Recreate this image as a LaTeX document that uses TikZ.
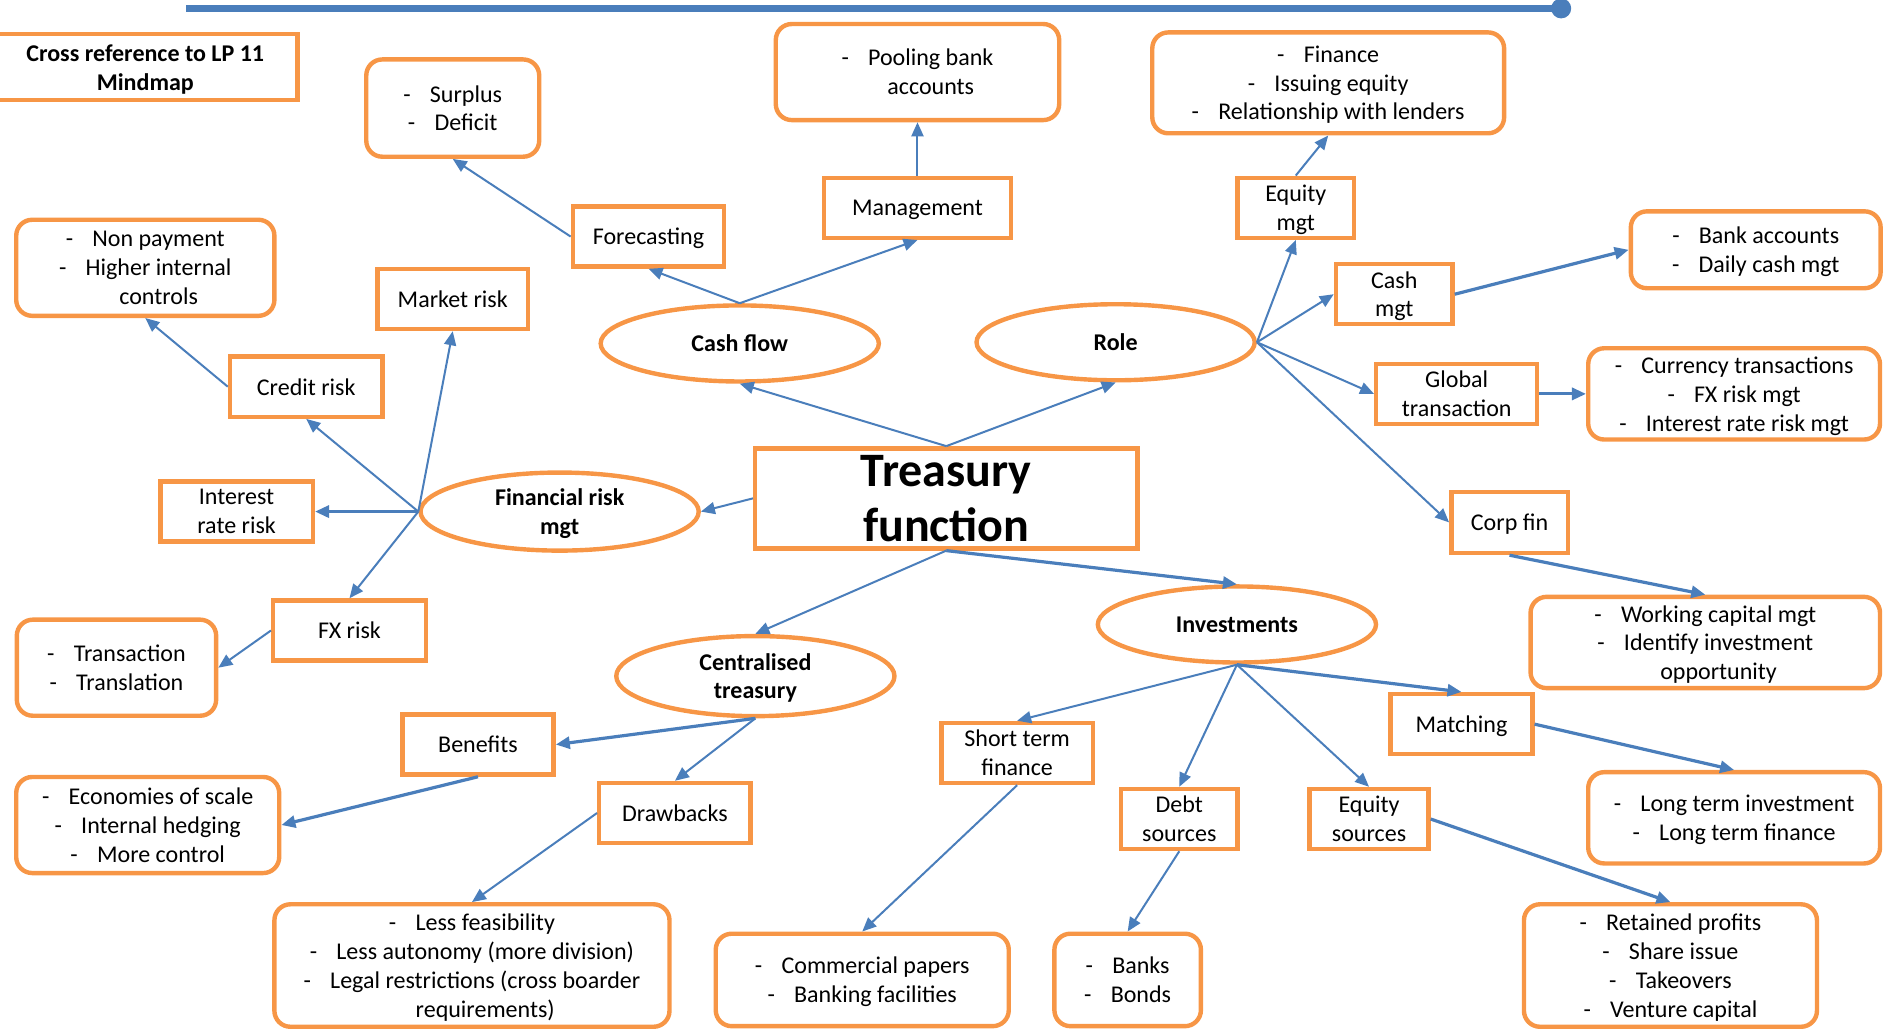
\documentclass[tikz,border=0pt]{standalone}
\usepackage{fontspec}
\setmainfont{Carlito}
\usetikzlibrary{shapes.geometric,arrows.meta}
\definecolor{tborder}{HTML}{F79646}
\definecolor{tlink}{HTML}{4A7EBB}
\newcommand{\itm}[1]{-\hspace{0.8em}#1}
\newcommand{\cont}[1]{\hphantom{-\hspace{0.8em}}#1}

\begin{document}
\begin{tikzpicture}[x=0.6pt,y=-0.6pt,
		every node/.style={font=\fontsize{12}{14.4}\selectfont, align=center, inner sep=0pt, text depth=0pt},
		box/.style={rectangle, draw=tborder, line width=2.2pt, minimum height=30pt},
		rbox/.style={rectangle, draw=tborder, line width=2.2pt, rounded corners=8pt},
		oval/.style={ellipse, draw=tborder, line width=2.2pt, minimum width=139pt, minimum height=38pt,
			font=\fontsize{12}{14.4}\selectfont\bfseries},
		link/.style={draw=tlink, line width=1pt, -{Triangle[length=7pt,width=6pt]}},
		biglink/.style={link, line width=1.6pt}]
		\useasboundingbox (0,0) rectangle (1568,858);

		\coordinate (barL) at (155,7);
		\coordinate (barR) at (1300,7);
		\draw[tlink, line width=3.5pt] (barL) -- (barR);
		\fill[tlink] (barR) circle (5pt);

		\node[box, minimum width=152pt, minimum height=33pt, font=\fontsize{12}{14.4}\selectfont\bfseries] (xref) at (121,56) {Cross reference to LP 11\\Mindmap};

		% centre and main branches
		\node[box, minimum width=191pt, minimum height=50pt, font=\fontsize{24}{27.6}\selectfont\bfseries] (tf) at (788,415) {Treasury\\function};
		\node[oval] (cf) at (616,286) {Cash flow};
		\node[oval] (role) at (929,285) {Role};
		\node[oval, minimum height=39pt] (frm) at (466,426) {Financial risk\\mgt};
		\node[oval, minimum height=40pt] (ct) at (629,563) {Centralised\\treasury};
		\node[oval] (inv) at (1030,520) {Investments};

		% cash flow
		\node[box, minimum width=75.6pt] (fc) at (540,197) {Forecasting};
		\node[box, minimum width=93.6pt] (mgmt) at (764,173) {Management};
		\node[rbox, minimum width=86.4pt, minimum height=48.6pt] (surp) at (377,90) {\itm{Surplus}\\\itm{Deficit}};
		\node[rbox, minimum width=141.6pt, minimum height=48pt] (pool) at (764,60) {\itm{Pooling bank}\\\cont{accounts}};

		% role
		\node[box, minimum width=58.2pt] (eqm) at (1079,173) {Equity\\mgt};
		\node[box, minimum width=58.2pt] (cash) at (1161,245) {Cash\\mgt};
		\node[box, minimum width=80.4pt] (glob) at (1213,328) {Global\\transaction};
		\node[box, minimum width=58.2pt, minimum height=30.6pt] (corp) at (1257,435) {Corp fin};
		\node[rbox, minimum width=175.8pt, minimum height=50.4pt] (fin) at (1106,69) {\itm{Finance}\\\itm{Issuing equity}\\\itm{Relationship with lenders}};
		\node[rbox, minimum width=124.8pt, minimum height=38.4pt] (bank) at (1462,208) {\itm{Bank accounts}\\\itm{Daily cash mgt}};
		\node[rbox, minimum width=145.8pt, minimum height=45.6pt] (curr) at (1444,328) {\itm{Currency transactions}\\\itm{FX risk mgt}\\\itm{Interest rate risk mgt}};
		\node[rbox, minimum width=174.6pt, minimum height=45.6pt] (wc) at (1420,535) {\itm{Working capital mgt}\\\itm{Identify investment}\\\cont{opportunity}};

		% financial risk
		\node[box, minimum width=75pt] (mr) at (377,249) {Market risk};
		\node[box, minimum width=76.2pt] (cr) at (255,322) {Credit risk};
		\node[box, minimum width=76.2pt] (ir) at (197,426) {Interest\\rate risk};
		\node[box, minimum width=76.2pt] (fx) at (291,525) {FX risk};
		\node[rbox, minimum width=129pt, minimum height=48pt] (nonp) at (121,223) {\itm{Non payment}\\\itm{Higher internal}\\\cont{controls}};
		\node[rbox, minimum width=99.6pt, minimum height=48pt] (trans) at (97,556) {\itm{Transaction}\\\itm{Translation}};

		% centralised treasury
		\node[box, minimum width=75.6pt] (ben) at (398,620) {Benefits};
		\node[box, minimum width=75.6pt] (drw) at (562,677) {Drawbacks};
		\node[rbox, minimum width=131.4pt, minimum height=48pt] (econ) at (123,687) {\itm{Economies of scale}\\\itm{Internal hedging}\\\itm{More control}};
		\node[rbox, minimum width=197.4pt, minimum height=61.2pt] (less) at (393,804) {\itm{Less feasibility}\\\itm{Less autonomy (more division)}\\\itm{Legal restrictions (cross boarder}\\\cont{requirements)}};

		% investments
		\node[box, minimum width=75.6pt] (stf) at (847,627) {Short term\\finance};
		\node[box, minimum width=70.8pt] (match) at (1217,603) {Matching};
		\node[box, minimum width=58.2pt] (debt) at (982,682) {Debt\\sources};
		\node[box, minimum width=59.4pt] (eqs) at (1140,682) {Equity\\sources};
		\node[rbox, minimum width=145.8pt, minimum height=45.6pt] (long) at (1444,681) {\itm{Long term investment}\\\itm{Long term finance}};
		\node[rbox, minimum width=146.4pt, minimum height=46.2pt] (comm) at (718,816) {\itm{Commercial papers}\\\itm{Banking facilities}};
		\node[rbox, minimum width=73.2pt, minimum height=46.2pt] (banks) at (939,816) {\itm{Banks}\\\itm{Bonds}};
		\node[rbox, minimum width=146.4pt, minimum height=61.2pt] (ret) at (1391,804) {\itm{Retained profits}\\\itm{Share issue}\\\itm{Takeovers}\\\itm{Venture capital}};

		% connectors
		\draw[link] (tf.north) -- (cf.south);
		\draw[link] (tf.north) -- (role.south);
		\draw[link] (tf.west) -- (frm.east);
		\draw[link] (tf.south) -- (ct.north);
		\draw[biglink] (tf.south) -- (inv.north);

		\draw[link] (cf.north) -- (fc.south);
		\draw[link] (cf.north) -- (mgmt.south);
		\draw[link] (fc.west) -- (surp.south);
		\draw[link] (mgmt.north) -- (pool.south);

		\draw[link] (role.east) -- (eqm.south);
		\draw[link] (role.east) -- (cash.west);
		\draw[link] (role.east) -- (glob.west);
		\draw[link] (role.east) -- (corp.west);
		\draw[link] (eqm.north) -- (fin.south);
		\draw[biglink] (cash.east) -- (bank.west);
		\draw[biglink] (glob.east) -- (curr.west);
		\draw[biglink] (corp.south) -- (wc.north);

		\draw[link] (frm.west) -- (cr.south);
		\draw[link] (frm.west) -- (mr.south);
		\draw[biglink] (frm.west) -- (ir.east);
		\draw[link] (frm.west) -- (fx.north);
		\draw[link] (cr.west) -- (nonp.south);
		\draw[link] (fx.west) -- (trans.east);

		\draw[biglink] (ct.south) -- (ben.east);
		\draw[link] (ct.south) -- (drw.north);
		\draw[biglink] (ben.south) -- (econ.east);
		\draw[link] (drw.west) -- (less.north);

		\draw[link] (inv.south) -- (stf.north);
		\draw[link] (inv.south) -- (debt.north);
		\draw[link] (inv.south) -- (eqs.north);
		\draw[biglink] (inv.south) -- (match.north);
		\draw[link] (stf.south) -- (comm.north);
		\draw[link] (debt.south) -- (banks.north);
		\draw[biglink] (eqs.east) -- (ret.north);
		\draw[biglink] (match.east) -- (long.north);
\end{tikzpicture}
\end{document}
